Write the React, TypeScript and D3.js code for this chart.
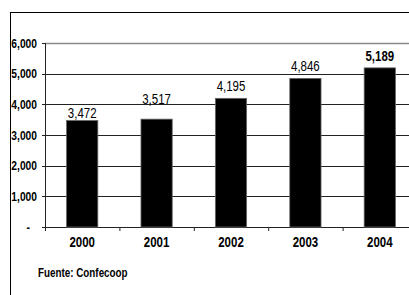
import React from "react";
import * as d3 from "d3";

const years = ["2000", "2001", "2002", "2003", "2004"];
const values = [3472, 3517, 4195, 4846, 5189];
const labelNudge = [3, 15, 7, 7, 7];
const boldLabel = [false, false, false, false, true];
const yTicks = [0, 1000, 2000, 3000, 4000, 5000, 6000];
const sourceText = "Fuente: Confecoop";

const W = 409;
const H = 295;
const FONT = "'Liberation Sans', Arial, sans-serif";
const NARROW = 0.82;

function NText(props: {
  x: number;
  y: number;
  anchor?: "start" | "middle" | "end";
  size: number;
  bold?: boolean;
  dy?: string;
  children: React.ReactNode;
}) {
  const { x, y, anchor = "start", size, bold, dy, children } = props;
  return (
    <text
      transform={`translate(${x},${y}) scale(${NARROW},1)`}
      textAnchor={anchor}
      fontSize={size}
      fontWeight={bold ? "bold" : "normal"}
      dy={dy}
      fill="#000"
    >
      {children}
    </text>
  );
}

export default function App() {
  const left = 45;
  const step = 74.4;
  const x = d3
    .scaleBand<string>()
    .domain(years)
    .range([left, left + step * years.length])
    .paddingInner(0.58)
    .paddingOuter(0.29);
  const y = d3.scaleLinear().domain([0, 6000]).range([227, 43]);
  const fmt = d3.format(",");
  const bw = x.bandwidth();

  return (
    <svg
      width={W}
      height={H}
      style={{ position: "absolute", left: 0, top: 0, background: "#fff" }}
      fontFamily={FONT}
    >
      <rect x={0} y={0} width={W} height={H} fill="#fff" />
      {/* outer frame */}
      <line x1={10.5} x2={10.5} y1={12} y2={H} stroke="#000" strokeWidth={1} />
      <line x1={10} x2={W} y1={12.5} y2={12.5} stroke="#000" strokeWidth={1} />

      {/* gridlines */}
      {yTicks.map((t) => (
        <line
          key={"g" + t}
          x1={left}
          x2={W}
          y1={Math.round(y(t)) + 0.5}
          y2={Math.round(y(t)) + 0.5}
          stroke={t === 6000 ? "#8a8a8a" : "#222"}
          strokeWidth={t === 6000 ? 1.3 : 1}
        />
      ))}
      {/* y axis */}
      <line x1={left + 0.5} x2={left + 0.5} y1={y(6000)} y2={y(0)} stroke="#222" />
      {yTicks.map((t) => (
        <g key={"yt" + t}>
          <line
            x1={left - 3}
            x2={left}
            y1={Math.round(y(t)) + 0.5}
            y2={Math.round(y(t)) + 0.5}
            stroke="#222"
          />
          <NText x={t === 0 ? 30 : 37} y={y(t)} dy="0.36em" anchor="end" size={12.5} bold>
            {t === 0 ? "-" : fmt(t)}
          </NText>
        </g>
      ))}
      {/* x ticks */}
      {years.map((yr, i) => (
        <line
          key={"xt" + yr}
          x1={left + step * i + 0.5}
          x2={left + step * i + 0.5}
          y1={y(0)}
          y2={y(0) + 4}
          stroke="#222"
        />
      ))}
      <line x1={left + step * years.length + 0.5} x2={left + step * years.length + 0.5} y1={y(0)} y2={y(0) + 4} stroke="#222" />

      {/* bars */}
      {years.map((yr, i) => (
        <rect
          key={"b" + yr}
          x={x(yr)!}
          y={y(values[i])}
          width={bw}
          height={y(0) - y(values[i])}
          fill="#000"
          stroke="#666"
          strokeWidth={0.8}
        />
      ))}
      {/* value labels */}
      {years.map((yr, i) => (
        <NText
          key={"v" + yr}
          x={x(yr)! + bw / 2}
          y={y(values[i]) - labelNudge[i]}
          anchor="middle"
          size={14}
          bold={boldLabel[i]}
        >
          {fmt(values[i])}
        </NText>
      ))}
      {/* x labels */}
      {years.map((yr) => (
        <NText key={"xl" + yr} x={x(yr)! + bw / 2} y={247} anchor="middle" size={14} bold>
          {yr}
        </NText>
      ))}
      <NText x={38} y={277} size={12} bold>
        {sourceText}
      </NText>
    </svg>
  );
}
